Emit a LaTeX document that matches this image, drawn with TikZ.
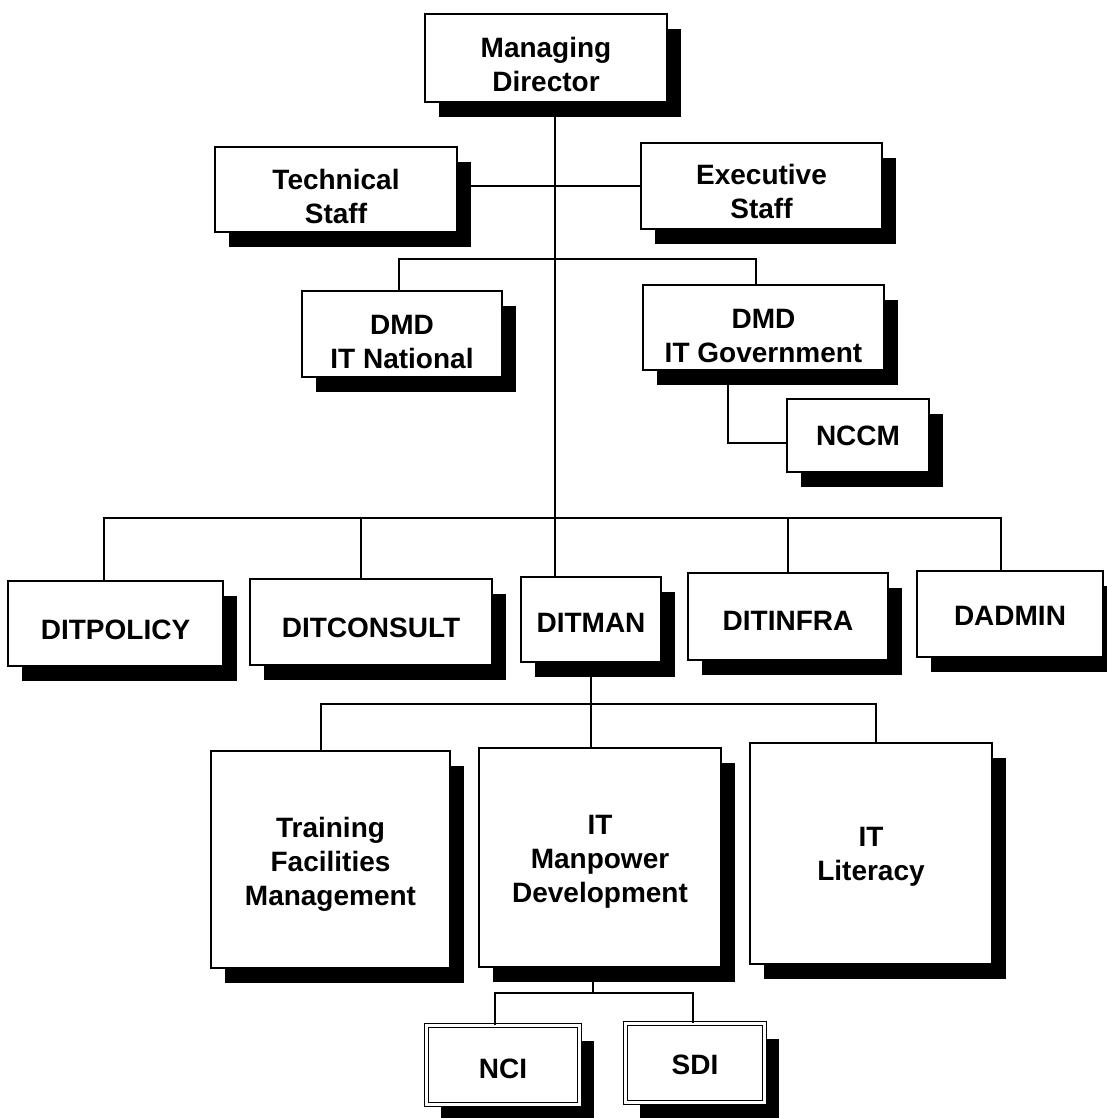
\documentclass[tikz,border=0pt]{standalone}
\usepackage{fontspec}
\setmainfont{Liberation Sans}
\usetikzlibrary{shadows}
\begin{document}
\begin{tikzpicture}[x=1pt,y=-1pt,
  unit/.style={draw, line width=1.6pt, fill=white, align=center,
    font=\bfseries\fontsize{28}{34}\selectfont, inner sep=0pt,
    general shadow={fill=black, shadow xshift=14pt, shadow yshift=-15pt}},
  dblunit/.style={unit, double, double distance=2.4pt, line width=1.2pt},
  link/.style={line width=1.6pt}]
  \useasboundingbox (0,0) rectangle (1106,1118);
  \fill[white] (0,0) rectangle (1106,1118);

  % top management
  \node[unit, minimum width=242pt, minimum height=88pt, text height=66.5pt] (md) at (546,58) {Managing\\Director};
  \node[unit, minimum width=242pt, minimum height=85pt, text height=68.5pt] (tech) at (336,189.5) {Technical\\Staff};
  \node[unit, minimum width=241pt, minimum height=86pt, text height=64.5pt] (exec) at (761.5,186) {Executive\\Staff};
  \node[unit, minimum width=200pt, minimum height=86pt, text height=69.5pt] (natl) at (402,334) {DMD\\IT National};
  \node[unit, minimum width=241pt, minimum height=85pt, text height=69.5pt] (gov) at (763.5,327.5) {DMD\\IT Government};
  \node[unit, minimum width=142pt, minimum height=73pt, text height=20.5pt] (nccm) at (858,435.5) {NCCM};

  % divisions
  \node[unit, minimum width=215pt, minimum height=85pt, text height=32.5pt] (policy) at (115.5,623.5) {DITPOLICY};
  \node[unit, minimum width=242pt, minimum height=86pt, text height=30.5pt] (consult) at (371,622) {DITCONSULT};
  \node[unit, minimum width=140pt, minimum height=85pt, text height=26.5pt] (ditman) at (591,619.5) {DITMAN};
  \node[unit, minimum width=200pt, minimum height=87pt, text height=28.5pt] (infra) at (788,616.5) {DITINFRA};
  \node[unit, minimum width=186pt, minimum height=86pt, text height=22.5pt] (admin) at (1010,614) {DADMIN};

  % DITMAN sections
  \node[unit, minimum width=239pt, minimum height=217pt, text height=98.5pt] (train) at (330.5,859.5) {Training\\Facilities\\Management};
  \node[unit, minimum width=242pt, minimum height=219pt, text height=96.5pt] (manp) at (600,857.5) {IT\\Manpower\\Development};
  \node[unit, minimum width=242pt, minimum height=221pt, text height=60.5pt] (lit) at (871,853.5) {IT\\Literacy};

  % units under IT Manpower Development
  \node[dblunit, minimum width=153pt, minimum height=79pt, text height=26.5pt] (nci) at (503,1065) {NCI};
  \node[dblunit, minimum width=139pt, minimum height=79pt, text height=22.5pt] (sdi) at (695,1063) {SDI};

  % bus lines and drop points
  \coordinate (trunk) at (555,0);
  \coordinate (dmdbus) at (0,259);
  \coordinate (divbus) at (0,518);
  \coordinate (secbus) at (0,704);
  \coordinate (unitbus) at (0,993);
  \coordinate (cnatl) at (399,0);
  \coordinate (cgov) at (756,0);
  \coordinate (cnccm) at (728,443);
  \coordinate (cpolicy) at (104,0);
  \coordinate (cconsult) at (361,0);
  \coordinate (cadmin) at (1001,0);
  \coordinate (cdown) at (591,0);
  \coordinate (ctrain) at (321,0);
  \coordinate (clit) at (876,0);
  \coordinate (cmanp) at (593,0);
  \coordinate (cnci) at (495,0);
  \coordinate (csdi) at (693,0);

  % main trunk and staff line
  \draw[link] (trunk |- md.south) -- (trunk |- ditman.north);
  \draw[link] (tech.east |- exec.west) -- (exec.west);

  % deputy managing directors
  \draw[link] (cnatl |- natl.north) -- (cnatl |- dmdbus) -- (cgov |- dmdbus) -- (cgov |- gov.north);
  \draw[link] (cnccm |- gov.south) -- (cnccm) -- (cnccm -| nccm.west);

  % divisions
  \draw[link] (cpolicy |- policy.north) -- (cpolicy |- divbus) -- (cadmin |- divbus) -- (cadmin |- admin.north);
  \draw[link] (cconsult |- divbus) -- (cconsult |- consult.north);
  \draw[link] (infra.north |- divbus) -- (infra.north);

  % DITMAN sections
  \draw[link] (cdown |- ditman.south) -- (cdown |- secbus);
  \draw[link] (ctrain |- train.north) -- (ctrain |- secbus) -- (clit |- secbus) -- (clit |- lit.north);
  \draw[link] (cdown |- secbus) -- (cdown |- manp.north);

  % units under IT Manpower Development
  \draw[link] (cmanp |- manp.south) -- (cmanp |- unitbus);
  \draw[link] (cnci |- nci.north) -- (cnci |- unitbus) -- (csdi |- unitbus) -- (csdi |- sdi.north);
\end{tikzpicture}
\end{document}
